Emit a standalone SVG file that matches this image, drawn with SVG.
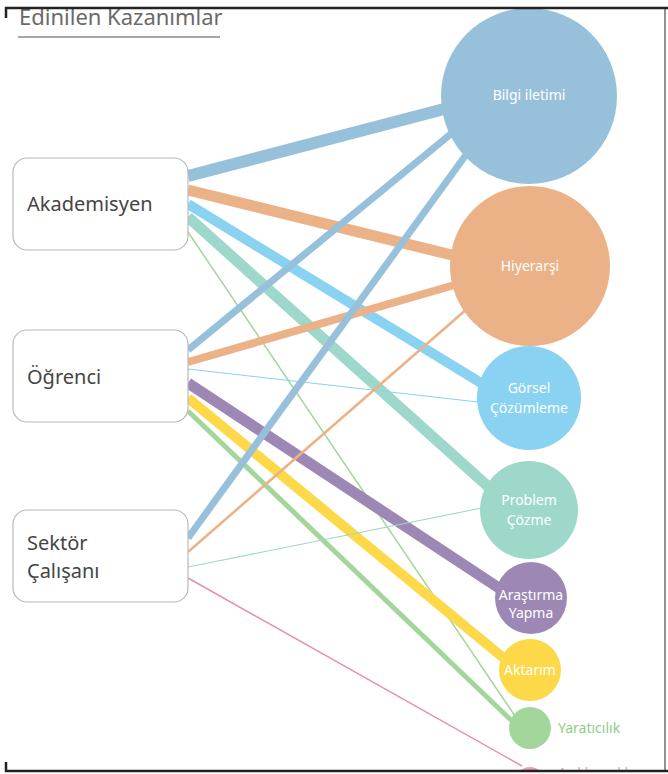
<svg xmlns="http://www.w3.org/2000/svg" width="668" height="774" viewBox="0 0 668 774">
  <style>
    .box { fill: #ffffff; stroke: #b9b9b9; stroke-width: 1.2; }
    .who { font-family: "Noto Sans", "Open Sans", sans-serif; font-size: 20px; fill: #454545; }
    .skill { font-family: "Noto Sans", "Open Sans", sans-serif; font-size: 14px; fill: #ffffff; text-anchor: middle; }
    .link { fill: none; stroke-linecap: butt; }
    .frame { stroke: #222222; fill: none; }
  </style>
  <rect width="668" height="774" fill="#ffffff"/>

  <!-- heading (its top runs under the page frame) -->
  <text x="19" y="25" font-family="Noto Sans, Open Sans, sans-serif" font-size="22" fill="#6a6a6a">Edinilen Kazanımlar</text>
  <line x1="18" y1="37" x2="220" y2="37" stroke="#8a8a8a" stroke-width="1.5"/>
  <rect x="0" y="0" width="668" height="9" fill="#ffffff"/>

  <!-- connectors -->
  <g id="connectors" class="link">
    <!-- Akademisyen -->
    <line x1="188" y1="176" x2="448" y2="108" stroke="#97c1da" stroke-width="12"/>
    <line x1="188" y1="190" x2="456" y2="256" stroke="#ebb287" stroke-width="11"/>
    <line x1="188" y1="204" x2="486" y2="386" stroke="#89d2f2" stroke-width="10"/>
    <line x1="188" y1="217" x2="492" y2="490" stroke="#9ed8cb" stroke-width="11"/>
    <line x1="188" y1="232" x2="515" y2="716" stroke="#a3d69a" stroke-width="1.5"/>
    <!-- Öğrenci -->
    <line x1="188" y1="350" x2="452" y2="133" stroke="#97c1da" stroke-width="7"/>
    <line x1="188" y1="362" x2="458" y2="284" stroke="#ebb287" stroke-width="8"/>
    <line x1="188" y1="369" x2="478" y2="402" stroke="#89d2f2" stroke-width="1.2"/>
    <line x1="188" y1="383" x2="502" y2="590" stroke="#9d87b5" stroke-width="11"/>
    <line x1="188" y1="398" x2="506" y2="660" stroke="#fdd94a" stroke-width="10"/>
    <line x1="188" y1="411" x2="513" y2="722" stroke="#a3d69a" stroke-width="5"/>
    <!-- Sektör Çalışanı -->
    <line x1="188" y1="538" x2="468" y2="152" stroke="#97c1da" stroke-width="7"/>
    <line x1="188" y1="552" x2="468" y2="308" stroke="#ebb287" stroke-width="2.5"/>
    <line x1="188" y1="567" x2="482" y2="508" stroke="#9ed8cb" stroke-width="1.2"/>
    <line x1="188" y1="578" x2="522" y2="766" stroke="#e58db6" stroke-width="1.5"/>
  </g>

  <!-- left: groups -->
  <g id="akademisyen">
    <rect class="box" x="13" y="158" width="175" height="92" rx="14"/>
    <text class="who" x="27" y="211">Akademisyen</text>
  </g>
  <g id="ogrenci">
    <rect class="box" x="13" y="330" width="175" height="92" rx="14"/>
    <text class="who" x="27" y="384">Öğrenci</text>
  </g>
  <g id="sektor">
    <rect class="box" x="13" y="510" width="175" height="92" rx="14"/>
    <text class="who" x="27" y="550">Sektör</text>
    <text class="who" x="27" y="578">Çalışanı</text>
  </g>

  <!-- right: outcomes -->
  <g id="bilgi">
    <circle cx="529" cy="96" r="88" fill="#97c1da"/>
    <text class="skill" x="529" y="100">Bilgi iletimi</text>
  </g>
  <g id="hiyerarsi">
    <circle cx="530" cy="266" r="80" fill="#ebb287"/>
    <text class="skill" x="530" y="271">Hiyerarşi</text>
  </g>
  <g id="gorsel">
    <circle cx="529" cy="398" r="52" fill="#89d2f2"/>
    <text class="skill" x="529" y="393">Görsel</text>
    <text class="skill" x="529" y="413">Çözümleme</text>
  </g>
  <g id="problem">
    <circle cx="529" cy="510" r="49" fill="#9ed8cb"/>
    <text class="skill" x="529" y="505">Problem</text>
    <text class="skill" x="529" y="525">Çözme</text>
  </g>
  <g id="arastirma">
    <circle cx="531" cy="598" r="36" fill="#9d87b5"/>
    <text class="skill" x="531" y="600">Araştırma</text>
    <text class="skill" x="531" y="618">Yapma</text>
  </g>
  <g id="aktarim">
    <circle cx="530" cy="670" r="31" fill="#fdd94a"/>
    <text class="skill" x="530" y="675">Aktarım</text>
  </g>
  <g id="yaraticilik">
    <circle cx="530" cy="728" r="21" fill="#a3d69a"/>
    <text x="558" y="733" font-family="Noto Sans, Open Sans, sans-serif" font-size="14" fill="#8fcc85">Yaratıcılık</text>
  </g>
  <g id="aciklayicilik">
    <circle cx="530" cy="781" r="14" fill="#ea9bc0"/>
    <text x="558" y="778" font-family="Noto Sans, Open Sans, sans-serif" font-size="14" fill="#ea9bc0">Açıklayıcılık</text>
  </g>

  <!-- page frame -->
  <rect x="0" y="770" width="668" height="4" fill="#ffffff"/>
  <g id="frame" class="frame">
    <polyline points="6,18 6,8 668,8" stroke-width="2.5"/>
    <polyline points="6,762 6,771 668,771" stroke-width="2.5"/>
    <line x1="665" y1="8" x2="665" y2="771" stroke-width="1"/>
  </g>
</svg>
